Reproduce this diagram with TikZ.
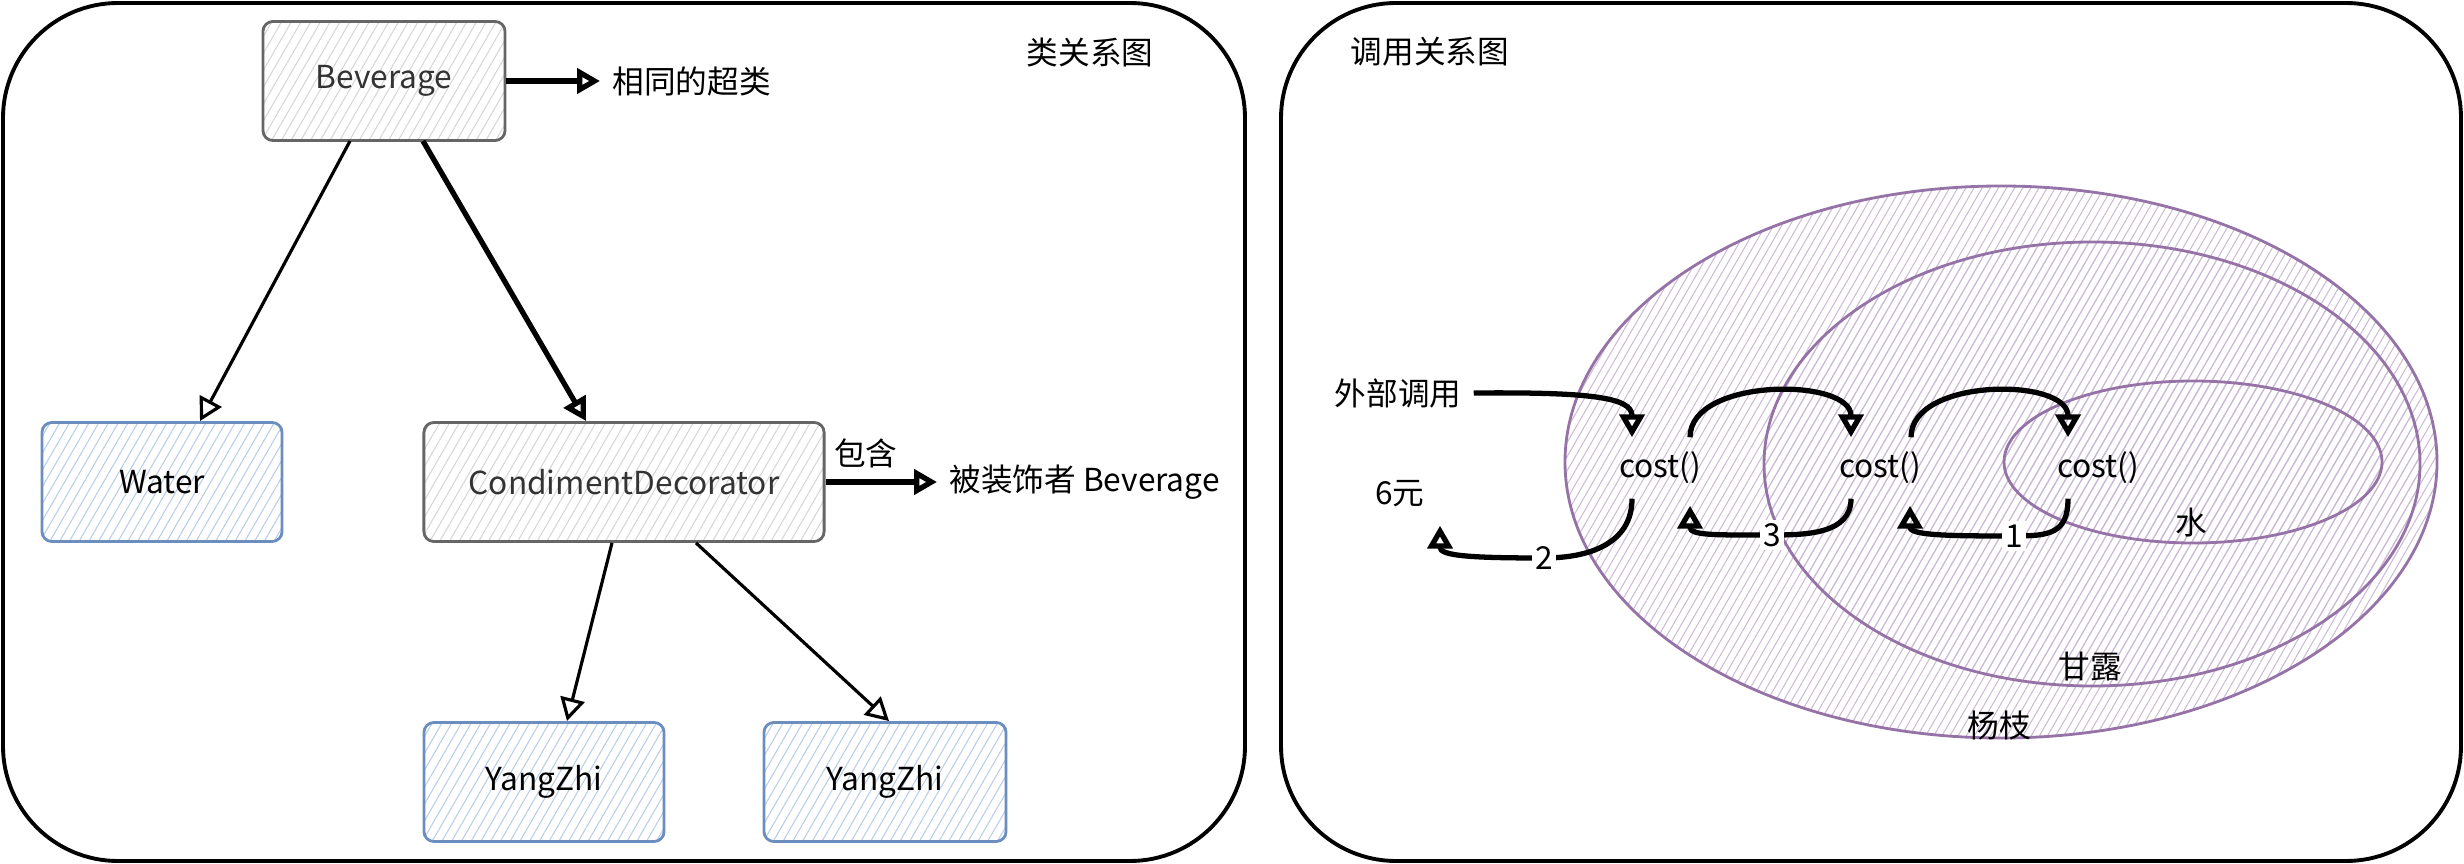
\documentclass[tikz,border=0pt]{standalone}
\usepackage{fontspec}
\setmainfont{Noto Sans CJK SC}
\usetikzlibrary{arrows.meta,patterns.meta,calc}

\definecolor{garisabu}{HTML}{666666}
\definecolor{teksabu}{HTML}{333333}
\definecolor{arsirabu}{HTML}{D6D6D6}
\definecolor{garisbiru}{HTML}{6C8EBF}
\definecolor{arsirbiru}{HTML}{B9CCE8}
\definecolor{garisungu}{HTML}{9673A6}
\definecolor{arsirungu}{HTML}{CDBBD6}

\begin{document}
\begin{tikzpicture}[x=0.01cm,y=-0.01cm,
    font=\fontsize{9}{11}\selectfont,
    panel/.style={line width=1.1pt,rounded corners=1.15cm},
    kelas/.style={draw=garisabu,text=teksabu,line width=0.8pt,rounded corners=0.1cm,
      minimum height=1.19cm,pattern={Lines[angle=60,distance=2.4pt,line width=0.3pt]},
      pattern color=arsirabu},
    anak/.style={kelas,draw=garisbiru,text=black,pattern color=arsirbiru},
    panah/.style={line width=0.9pt,-{Triangle[open,length=6.5pt,width=7pt]}},
    tebal/.style={panah,line width=1.5pt},
    lingkar/.style={draw=garisungu,line width=0.8pt,
      pattern={Lines[angle=60,distance=2pt,line width=0.3pt]},pattern color=arsirungu},
    fungsi/.style={minimum height=0.6cm,inner sep=0pt},
    nomor/.style={fill=white,inner sep=1pt}]

      \useasboundingbox (0,0) rectangle (2464,864);

      % 两个面板
      \draw[panel] (3,3) rectangle (1245,861);
      \draw[panel] (1281,3) rectangle (2461,861);

      % 类关系图
      \node (judul1) at (1090,52) {类关系图};
      \node[kelas,minimum width=2.42cm] (bev) at (384,81) {Beverage};
      \node[anak,minimum width=2.4cm] (water) at (162,482) {Water};
      \node[kelas,minimum width=4cm] (dekor) at (624,482) {CondimentDecorator};
      \node[anak,minimum width=2.4cm] (yz1) at (544,782) {YangZhi};
      \node[anak,minimum width=2.42cm] (yz2) at (885,782) {YangZhi};
      \node[anchor=west] (super) at (600,81) {相同的超类};
      \node[anchor=west] (dihias) at (937,482) {被装饰者 Beverage};

      \draw[tebal] (bev) -- (super);
      \draw[panah] ($(bev.south)+(-34,0)$) -- ($(water.north)+(38,0)$);
      \draw[tebal] ($(bev.south)+(39,0)$) -- ($(dekor.north)+(-38,0)$);
      \draw[panah] ($(dekor.south)+(-12,0)$) -- ($(yz1.north)+(23,0)$);
      \draw[panah] ($(dekor.south)+(72,0)$) -- ($(yz2.north)+(4,0)$);
      \draw[tebal] (dekor) -- node[above,pos=0.36] (isi) {包含} (dihias);

      % 调用关系图
      \node (judul2) at (1430,52) {调用关系图};

      % 三层椭圆
      \foreach \cx/\cy/\rx/\ry in {2001/462/436/276, 2092/464/328/222, 2193/462/189/81}
        \draw[lingkar] (\cx,\cy) ellipse [x radius=\rx, y radius=\ry];

      \node (yangzhi) at (1999,725) {杨枝};
      \node (ganlu) at (2090,667) {甘露};
      \node (shui) at (2191,523) {水};

      \foreach \n/\x in {1/1660,2/1880,3/2098}
        \node[fungsi] (cost\n) at (\x,468) {cost()};

      \node (luar) at (1398,393) {外部调用};
      \node (yuan) at (1400,494) {6元};

      % 调用
      \draw[tebal] (luar.east) .. controls (1590,392) and ($(cost1.north)+(-28,-40)$) .. ($(cost1.north)+(-28,0)$);
      \draw[tebal] ($(cost1.north)+(30,0)$) .. controls +(0,-60) and +(0,-60) .. ($(cost2.north)+(-29,0)$);
      \draw[tebal] ($(cost2.north)+(31,0)$) .. controls +(0,-60) and +(0,-60) .. ($(cost3.north)+(-30,0)$);

      % 返回
      \draw[tebal] ($(cost3.south)+(-30,0)$) .. controls +(0,35) and +(35,0) .. (2014,536) node[nomor] (n1) {1}
        .. controls +(-60,0) and +(0,30) .. ($(cost2.south)+(30,7)$);
      \draw[tebal] ($(cost2.south)+(-29,0)$) .. controls +(0,35) and +(35,0) .. (1772,535) node[nomor] (n3) {3}
        .. controls +(-55,0) and +(0,30) .. ($(cost1.south)+(30,7)$);
      \draw[tebal] ($(cost1.south)+(-28,0)$) .. controls +(0,45) and +(45,0) .. (1544,558) node[nomor] (n2) {2}
        .. controls +(-75,0) and +(0,30) .. ($(yuan.south)+(40,6)$);
    \end{tikzpicture}
\end{document}
